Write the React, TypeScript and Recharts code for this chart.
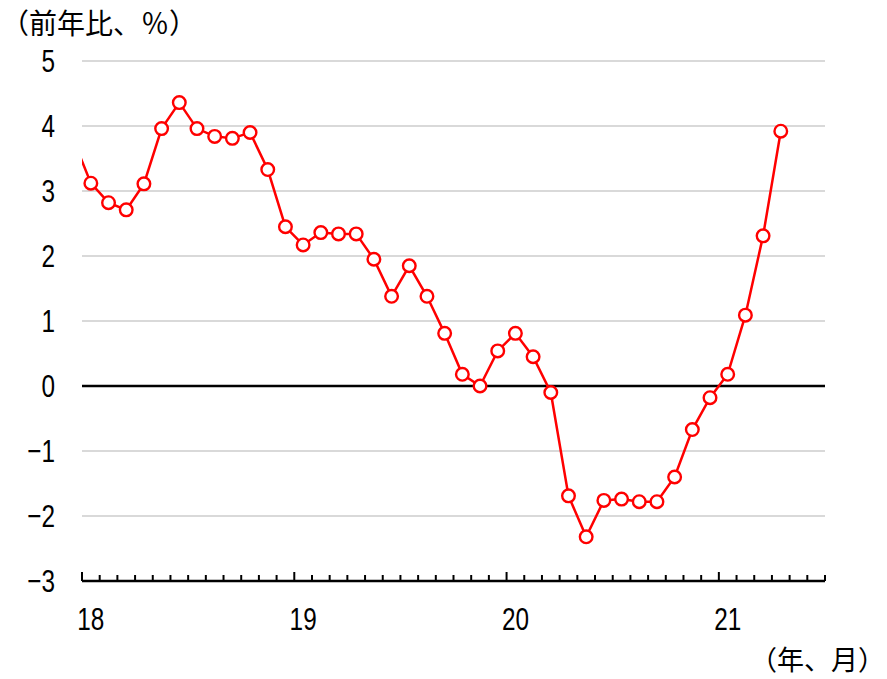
import React from 'react';
import {
  LineChart,
  Line,
  XAxis,
  YAxis,
  CartesianGrid,
  ReferenceLine,
} from 'recharts';

// Axis span: Jan 2018 .. Jun 2021 (42 months)
const monthCount = 42;
const yearLabels = ['18', '19', '20', '21'];
const yTicks = [-3, -2, -1, 0, 1, 2, 3, 4, 5];

// Dec 2017 value (partly visible at the left edge)
const prevValue = 3.8;

// Jan 2018 .. Apr 2021, y/y %
const values2018 = [3.12, 2.82, 2.71, 3.11, 3.96, 4.36, 3.96, 3.84, 3.81, 3.9, 3.33, 2.45];
const values2019 = [2.17, 2.36, 2.34, 2.34, 1.95, 1.38, 1.85, 1.38, 0.81, 0.18, 0.0, 0.54];
const values2020 = [0.81, 0.45, -0.1, -1.69, -2.32, -1.76, -1.74, -1.78, -1.78, -1.4, -0.67, -0.18];
const values2021 = [0.18, 1.09, 2.31, 3.92];

const values = [...values2018, ...values2019, ...values2020, ...values2021];

const data = [
  { m: -0.5, v: prevValue },
  ...values.map((v, i) => ({ m: i + 0.5, v })),
];

const monthTicks = Array.from({ length: monthCount + 1 }, (_, i) => i);
const labelTicks = yearLabels.map((_, k) => k * 12 + 0.5);
const xTicks = [...monthTicks, ...labelTicks].sort((a, b) => a - b);

const NUM_FONT = "'Liberation Sans', Arial, sans-serif";
const CJK_FONT = "'Noto Sans CJK JP', sans-serif";
const NUM_SIZE = 32;
const NUM_SCALE = 0.76;

const fmtY = (v: number) => (v < 0 ? '\u2212' + Math.abs(v) : String(v));

const XTick = (props: any) => {
  const { x, y, payload } = props;
  const v = payload.value as number;
  if (Number.isInteger(v)) {
    const len = v % 12 === 0 ? 9 : 6;
    return <line x1={x} x2={x} y1={y} y2={y - len} stroke="#000" strokeWidth={2} />;
  }
  const idx = Math.round((v - 0.5) / 12);
  return (
    <g transform={`translate(${x},${y + 38}) scale(${NUM_SCALE},1)`}>
      <text
        x={0}
        y={0}
        dy="0.355em"
        textAnchor="middle"
        fill="#000"
        fontSize={NUM_SIZE}
        fontFamily={NUM_FONT}
      >
        {yearLabels[idx]}
      </text>
    </g>
  );
};

const YTick = (props: any) => {
  const { x, y, payload } = props;
  return (
    <g transform={`translate(${x},${y}) scale(${NUM_SCALE},1)`}>
      <text
        x={0}
        y={0}
        dy="0.355em"
        textAnchor="end"
        fill="#000"
        fontSize={NUM_SIZE}
        fontFamily={NUM_FONT}
      >
        {fmtY(payload.value)}
      </text>
    </g>
  );
};

export default function App() {
  return (
    <div
      style={{
        position: 'absolute',
        left: 0,
        top: 0,
        width: 887,
        height: 679,
        background: '#fff',
        overflow: 'hidden',
      }}
    >
      <LineChart
        width={887}
        height={679}
        data={data}
        margin={{ top: 61, right: 62, left: 0, bottom: 0 }}
      >
        <CartesianGrid vertical={false} stroke="#d9d9d9" strokeWidth={2} />
        <XAxis
          dataKey="m"
          type="number"
          domain={[0, monthCount]}
          allowDataOverflow
          ticks={xTicks}
          interval={0}
          height={98}
          tickSize={0}
          tickMargin={0}
          tickLine={false}
          axisLine={{ stroke: '#000', strokeWidth: 2.4 }}
          tick={<XTick />}
        />
        <YAxis
          type="number"
          domain={[-3, 5]}
          ticks={yTicks}
          interval={0}
          width={82}
          axisLine={false}
          tickLine={false}
          tickSize={0}
          tickMargin={27}
          tick={<YTick />}
        />
        <ReferenceLine y={0} stroke="#000" strokeWidth={2.4} />
        <Line
          dataKey="v"
          stroke="#ff0000"
          strokeWidth={2.5}
          isAnimationActive={false}
          dot={{ r: 6.3, fill: '#fff', stroke: '#ff0000', strokeWidth: 2.4 }}
          activeDot={false}
        />
      </LineChart>
      <div
        style={{
          position: 'absolute',
          left: 1,
          top: 9,
          fontFamily: CJK_FONT,
          fontSize: 28,
          lineHeight: '26px',
          whiteSpace: 'nowrap',
          color: '#000',
        }}
      >
        （前年比、％）
      </div>
      <div
        style={{
          position: 'absolute',
          right: 2,
          top: 646,
          fontFamily: CJK_FONT,
          fontSize: 27,
          lineHeight: '26px',
          whiteSpace: 'nowrap',
          textAlign: 'right',
          color: '#000',
        }}
      >
        （年、月）
      </div>
    </div>
  );
}
